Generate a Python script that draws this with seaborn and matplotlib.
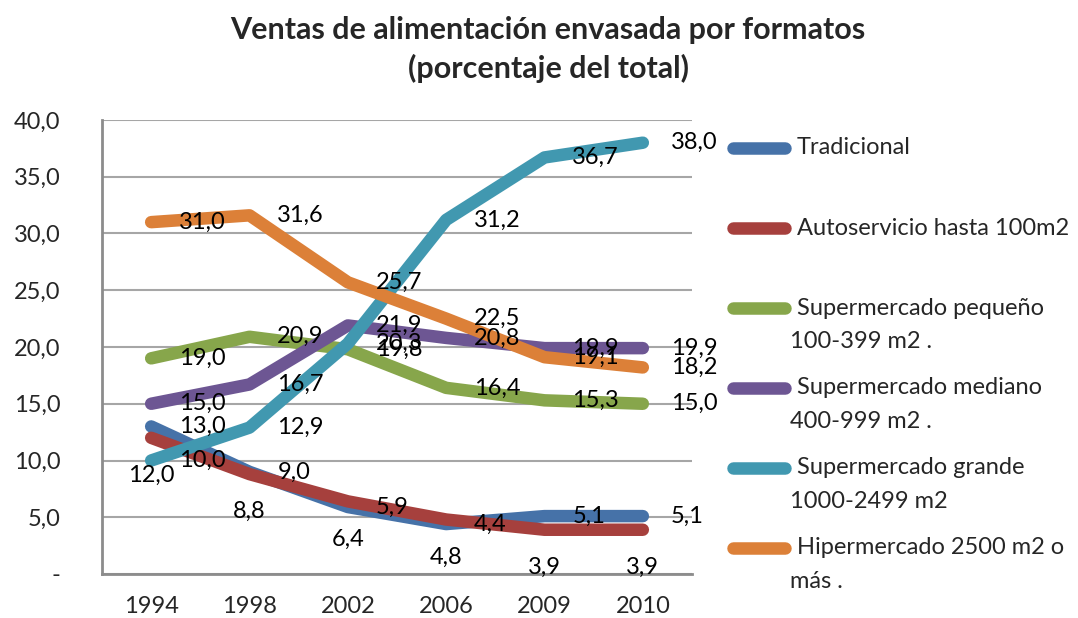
import numpy as np
import pandas as pd
import seaborn as sns
import matplotlib.pyplot as plt
from matplotlib.lines import Line2D

# data (% of total sales)
years = ["1994", "1998", "2002", "2006", "2009", "2010"]
tradicional = [13.0, 9.0, 5.9, 4.4, 5.1, 5.1]
autoservicio = [12.0, 8.8, 6.4, 4.8, 3.9, 3.9]
super_pequeno = [19.0, 20.9, 19.8, 16.4, 15.3, 15.0]
super_mediano = [15.0, 16.7, 21.9, 20.8, 19.9, 19.9]
super_grande = [10.0, 12.9, 20.3, 31.2, 36.7, 38.0]
hipermercado = [31.0, 31.6, 25.7, 22.5, 19.1, 18.2]

series_names = ["Tradicional", "Autoservicio hasta 100m2",
                "Supermercado pequeño 100-399 m2 .", "Supermercado mediano 400-999 m2 .",
                "Supermercado grande 1000-2499 m2", "Hipermercado 2500 m2 o más ."]
legend_lines = [["Tradicional"], ["Autoservicio hasta 100m2"],
                ["Supermercado pequeño", "100-399 m2 ."],
                ["Supermercado mediano", "400-999 m2 ."],
                ["Supermercado grande", "1000-2499 m2"],
                ["Hipermercado 2500 m2 o", "más ."]]
colors = ["#4672A8", "#A6403D", "#87A64B", "#6D5693", "#4198B0", "#DC8038"]
label_pos = ["right", "below", "right", "right", "right", "right"]

values = [tradicional, autoservicio, super_pequeno, super_mediano, super_grande, hipermercado]
df = pd.DataFrame({
    "year": years * len(series_names),
    "value": sum(values, []),
    "serie": np.repeat(series_names, len(years)),
})

sns.set_theme(style="white")
plt.rcParams["font.family"] = ["Lato", "DejaVu Sans"]
FS = 17

fig = plt.figure(figsize=(10.78, 6.18), dpi=100)
ax = fig.add_axes([102 / 1078, 44 / 618, 590 / 1078, 454 / 618])

sns.lineplot(data=df, x="year", y="value", hue="serie", palette=colors,
             sort=False, linewidth=9, solid_capstyle="round",
             solid_joinstyle="round", legend=False, ax=ax)

# data labels
for vals, pos in zip(values, label_pos):
    for i, v in enumerate(vals):
        txt = f"{v:.1f}".replace(".", ",")
        if pos == "right":
            ax.annotate(txt, (i, v), xytext=(20, 0), textcoords="offset points",
                        ha="left", va="center", fontsize=FS, color="black", zorder=5)
        else:
            ax.annotate(txt, (i, v), xytext=(0, -27), textcoords="offset points",
                        ha="center", va="center", fontsize=FS, color="black", zorder=5)

ax.set_xlim(-0.5, 5.5)
ax.set_ylim(0, 40)
ax.set_yticks(np.arange(0, 41, 5))
ax.set_yticklabels(["-"] + [f"{t:.1f}".replace(".", ",") for t in np.arange(5, 41, 5)])
ax.yaxis.grid(True, color="#A6A6A6", linewidth=1.5)
ax.set_axisbelow(True)
ax.tick_params(axis="y", length=0, pad=30, labelsize=FS)
ax.tick_params(axis="x", length=0, pad=16, labelsize=FS)
ax.set_xlabel("")
ax.set_ylabel("")
for side in ["top", "right"]:
    ax.spines[side].set_visible(False)
for side in ["left", "bottom"]:
    ax.spines[side].set_color("#8C8C8C")
    ax.spines[side].set_linewidth(2)

fig.text(548 / 1078, 1 - 30 / 618, "Ventas de alimentación envasada por formatos",
         ha="center", va="center", fontsize=22, fontweight="bold")
fig.text(548 / 1078, 1 - 68 / 618, "(porcentaje del total)",
         ha="center", va="center", fontsize=22, fontweight="bold")

# legend on the right, one slot every 80 px
for k, (lines, c) in enumerate(zip(legend_lines, colors)):
    y = 148 + 80 * k
    fig.add_artist(Line2D([733 / 1078, 785 / 1078], [1 - y / 618, 1 - y / 618],
                          color=c, linewidth=9, solid_capstyle="round",
                          transform=fig.transFigure))
    fig.text(797 / 1078, 1 - y / 618, lines[0], ha="left", va="center", fontsize=FS)
    for j, extra in enumerate(lines[1:]):
        fig.text(790 / 1078, 1 - (y + 34 * (j + 1)) / 618, extra,
                 ha="left", va="center", fontsize=FS)

fig.savefig("out.png", dpi=100)
